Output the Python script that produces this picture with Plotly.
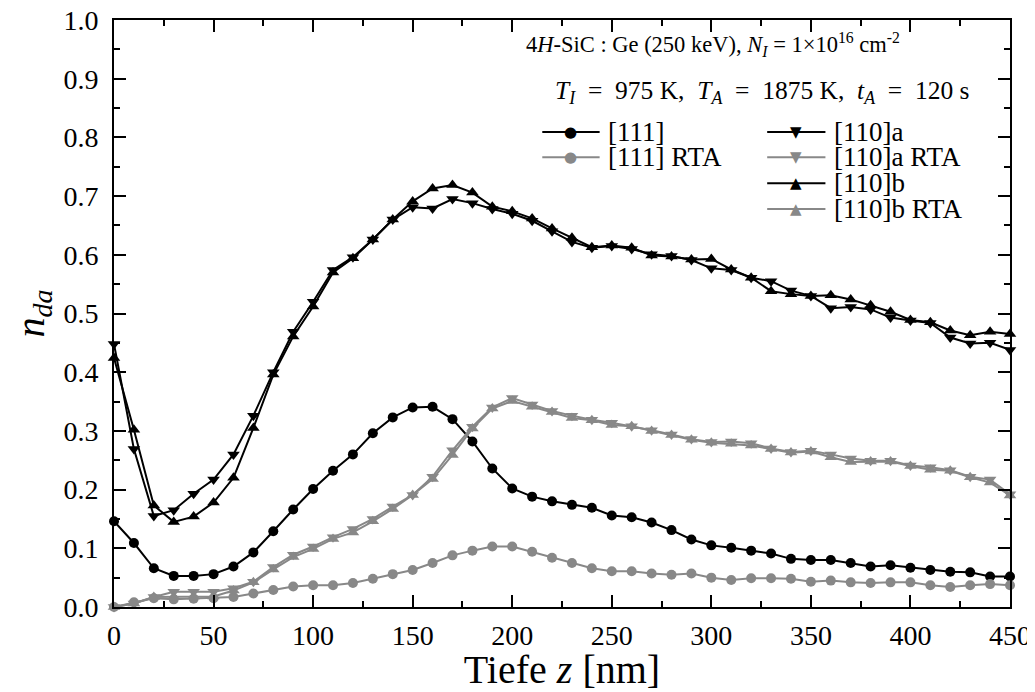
"""Damage profiles n_da vs depth for 4H-SiC:Ge implantation."""

import plotly.graph_objects as go

depth = list(range(0, 451, 10))

n111 = [0.146, 0.109, 0.066, 0.053, 0.053, 0.056, 0.069, 0.093, 0.129, 0.166,
        0.201, 0.232, 0.260, 0.296, 0.323, 0.340, 0.341, 0.320, 0.282, 0.236,
        0.202, 0.188, 0.180, 0.174, 0.169, 0.156, 0.153, 0.144, 0.131, 0.115,
        0.105, 0.101, 0.096, 0.091, 0.082, 0.080, 0.080, 0.075, 0.069, 0.071,
        0.067, 0.063, 0.060, 0.059, 0.052, 0.052]

n111_rta = [0.000, 0.008, 0.015, 0.013, 0.014, 0.015, 0.017, 0.023, 0.029, 0.035,
            0.037, 0.037, 0.041, 0.048, 0.056, 0.063, 0.075, 0.088, 0.096, 0.103,
            0.103, 0.094, 0.084, 0.075, 0.066, 0.061, 0.061, 0.057, 0.055, 0.057,
            0.050, 0.046, 0.049, 0.049, 0.048, 0.043, 0.045, 0.042, 0.041, 0.042,
            0.042, 0.037, 0.034, 0.037, 0.039, 0.037]

n110a = [0.448, 0.269, 0.155, 0.165, 0.193, 0.217, 0.260, 0.326, 0.400, 0.469,
         0.520, 0.574, 0.596, 0.626, 0.660, 0.681, 0.679, 0.695, 0.688, 0.678,
         0.670, 0.658, 0.640, 0.622, 0.612, 0.615, 0.610, 0.601, 0.598, 0.591,
         0.577, 0.574, 0.561, 0.555, 0.539, 0.530, 0.509, 0.511, 0.507, 0.493,
         0.488, 0.484, 0.459, 0.449, 0.450, 0.438]

n110b = [0.424, 0.302, 0.173, 0.145, 0.154, 0.178, 0.220, 0.305, 0.396, 0.461,
         0.512, 0.570, 0.594, 0.626, 0.660, 0.691, 0.713, 0.719, 0.706, 0.682,
         0.674, 0.662, 0.645, 0.629, 0.613, 0.616, 0.612, 0.599, 0.597, 0.592,
         0.593, 0.575, 0.561, 0.538, 0.533, 0.530, 0.531, 0.524, 0.514, 0.503,
         0.489, 0.485, 0.471, 0.463, 0.469, 0.465]

n110a_rta = [0.000, 0.006, 0.017, 0.026, 0.026, 0.026, 0.032, 0.043, 0.068, 0.089,
             0.103, 0.119, 0.133, 0.150, 0.171, 0.191, 0.222, 0.267, 0.307, 0.340,
             0.356, 0.345, 0.334, 0.326, 0.319, 0.314, 0.308, 0.301, 0.294, 0.286,
             0.281, 0.282, 0.279, 0.270, 0.264, 0.266, 0.260, 0.253, 0.249, 0.249,
             0.241, 0.238, 0.233, 0.222, 0.217, 0.192]

n110b_rta = [0.000, 0.006, 0.017, 0.017, 0.018, 0.018, 0.028, 0.042, 0.064, 0.085,
             0.099, 0.116, 0.127, 0.146, 0.167, 0.191, 0.218, 0.259, 0.304, 0.338,
             0.351, 0.341, 0.332, 0.322, 0.318, 0.310, 0.308, 0.300, 0.293, 0.285,
             0.280, 0.278, 0.275, 0.269, 0.263, 0.265, 0.255, 0.247, 0.248, 0.248,
             0.240, 0.234, 0.232, 0.221, 0.212, 0.190]

BLACK = "#000000"
GRAY = "#888888"
FONT = "Liberation Serif"

# name, values, colour, marker, legend glyph, legend column
series = [
    ("[111]", n111, BLACK, "circle", "●", 0),
    ("[111] RTA", n111_rta, GRAY, "circle", "●", 0),
    ("[110]a", n110a, BLACK, "triangle-down", "▼", 1),
    ("[110]a RTA", n110a_rta, GRAY, "triangle-down", "▼", 1),
    ("[110]b", n110b, BLACK, "triangle-up", "▲", 1),
    ("[110]b RTA", n110b_rta, GRAY, "triangle-up", "▲", 1),
]

fig = go.Figure()
for name, values, color, symbol, glyph, col in series:
    fig.add_trace(
        go.Scatter(
            x=depth,
            y=values,
            mode="lines+markers",
            name=name,
            showlegend=False,
            line=dict(color=color, width=2),
            marker=dict(symbol=symbol, size=10 if symbol == "circle" else 11, color=color),
            cliponaxis=False,
        )
    )

# hand-made legend, two columns with tight rows like the original
legend_cols = [
    dict(x0=0.478, x1=0.542, mark=0.510, text=0.549),
    dict(x0=0.729, x1=0.794, mark=0.761, text=0.801),
]
legend_rows = [0.809, 0.766, 0.722, 0.678]
shapes = []
annotations = []
row_count = [0, 0]
for name, values, color, symbol, glyph, col in series:
    c = legend_cols[col]
    y = legend_rows[row_count[col]]
    row_count[col] += 1
    shapes.append(dict(type="line", xref="paper", yref="paper",
                       x0=c["x0"], x1=c["x1"], y0=y, y1=y,
                       line=dict(color=color, width=2)))
    annotations.append(dict(text=glyph, x=c["mark"], y=y, xref="paper", yref="paper",
                            xanchor="center", yanchor="middle", showarrow=False,
                            font=dict(family="DejaVu Sans", size=15, color=color)))
    annotations.append(dict(text=name, x=c["text"], y=y, xref="paper", yref="paper",
                            xanchor="left", yanchor="middle", showarrow=False,
                            font=dict(family=FONT, size=27, color="black")))

annotations.append(dict(
    text="4<i>H</i>-SiC : Ge (250 keV), <i>N<sub>I</sub></i> = 1×10<sup>16</sup> cm<sup>-2</sup>",
    x=0.458, y=0.959, xref="paper", yref="paper",
    xanchor="left", yanchor="middle", showarrow=False,
    font=dict(family=FONT, size=22.5, color="black"),
))
annotations.append(dict(
    text="<i>T<sub>I</sub></i>\u2002=\u2002975 K,\u2002<i>T<sub>A</sub></i>\u2002=\u20021875 K,"
         "\u2002<i>t<sub>A</sub></i>\u2002=\u2002120 s",
    x=0.490, y=0.878, xref="paper", yref="paper",
    xanchor="left", yanchor="middle", showarrow=False,
    font=dict(family=FONT, size=25.5, color="black"),
))

axis_common = dict(
    showline=True,
    linecolor="black",
    linewidth=2,
    mirror="allticks",
    ticks="inside",
    ticklen=12,
    tickwidth=2,
    tickcolor="black",
    showgrid=False,
    zeroline=False,
    automargin=False,
    ticklabeloverflow="allow",
    tickfont=dict(family=FONT, size=28, color="black"),
)

fig.update_xaxes(
    range=[0, 450],
    dtick=50,
    ticklabelstandoff=2,
    minor=dict(dtick=25, ticks="inside", ticklen=6, tickwidth=2, tickcolor="black"),
    title=dict(text="Tiefe <i>z</i> [nm]", font=dict(family=FONT, size=40, color="black"),
               standoff=11),
    **axis_common,
)
fig.update_yaxes(
    range=[0, 1.0],
    dtick=0.1,
    tickformat=".1f",
    ticklabelstandoff=8,
    minor=dict(dtick=0.05, ticks="inside", ticklen=6, tickwidth=2, tickcolor="black"),
    title=dict(text="<i>n</i><sub><i>da</i></sub>", font=dict(family=FONT, size=40, color="black"),
               standoff=30),
    **axis_common,
)

# the page adds an 8 px body margin, so the figure is drawn 8 px smaller
fig.update_layout(
    width=1027,
    height=684,
    margin=dict(l=106, r=25, t=12, b=85),
    paper_bgcolor="white",
    plot_bgcolor="white",
    showlegend=False,
    shapes=shapes,
    annotations=annotations,
)

fig.write_html("out.html")
